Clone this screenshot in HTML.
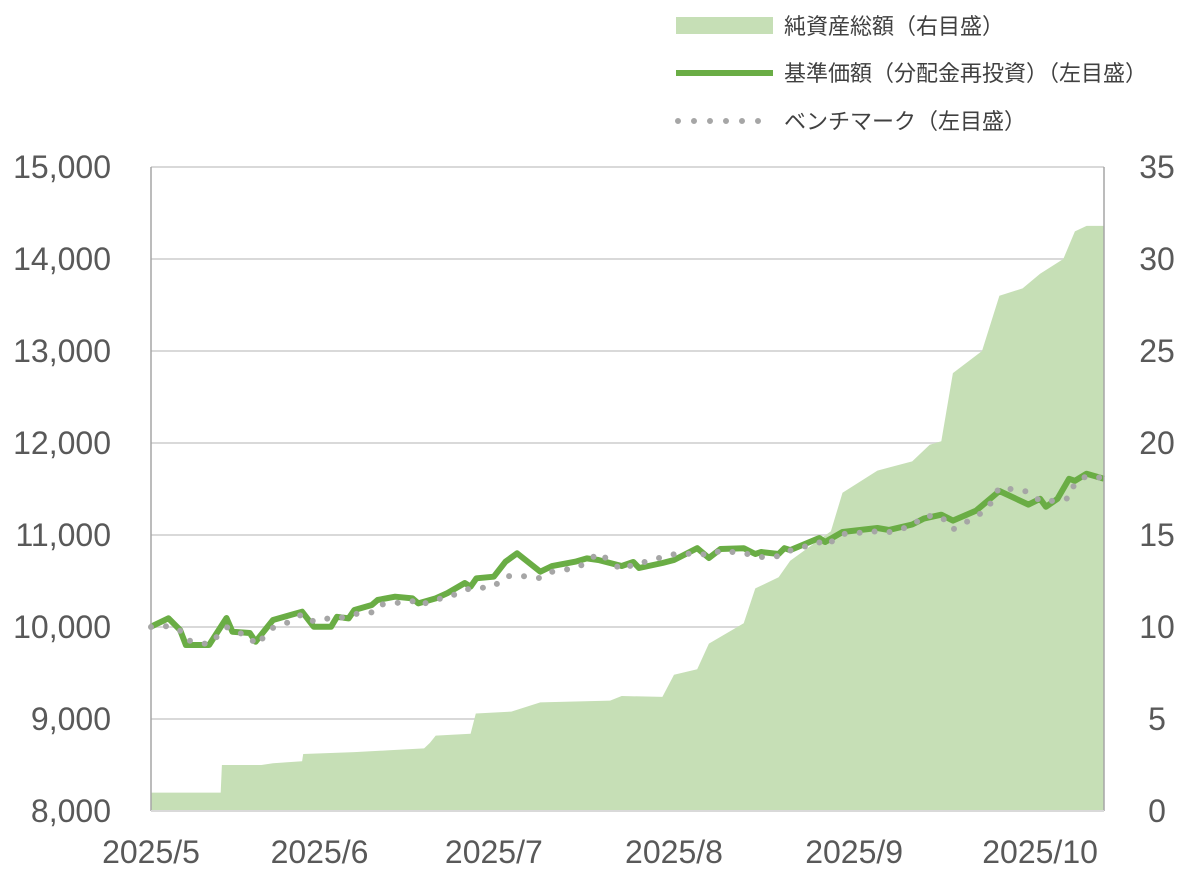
<!DOCTYPE html>
<html><head><meta charset="utf-8">
<style>
html,body{margin:0;padding:0;background:#fff;}
svg{display:block;font-family:"Liberation Sans","Noto Sans CJK JP",sans-serif;}
</style></head>
<body>
<svg id="chart" width="1200" height="882" viewBox="0 0 1200 882" xmlns="http://www.w3.org/2000/svg">
  <g id="legend">
    <g>
      <rect x="676" y="17" width="97" height="17" fill="#c6dfb6"/>
      <text x="784" y="34" font-size="22" fill="#404040">純資産総額（右目盛）</text>
    </g>
    <g>
      <line x1="676" y1="73" x2="773" y2="73" stroke="#6aad45" stroke-width="6"/>
      <text x="784" y="81" font-size="22" fill="#404040">基準価額（分配金再投資）（左目盛）</text>
    </g>
    <g>
      <line x1="678" y1="121" x2="773" y2="121" stroke="#a6a6a6" stroke-width="6" stroke-linecap="round" stroke-dasharray="0 16"/>
      <text x="784" y="129" font-size="22" fill="#404040">ベンチマーク（左目盛）</text>
    </g>
  </g>
  <g id="grid"></g>
  <g id="area"></g>
  <g id="lines"></g>
  <g id="axes"></g>
</svg>
<script>
const navDays = [0,3,5,6,10,13,14,17,18,21,24,26,28,31,32,34,35,38,39,42,45,46,49,51,54,55,56,59,61,63,67,69,73,75,77,81,83,84,88,90,94,96,98,102,104,105,108,109,110,115,116,119,125,127,131,133,136,138,142,144,146,151,153,154,156,158,159,161,164];
const navValues = [10003,10095,9967,9804,9804,10098,9949,9935,9840,10076,10130,10166,10003,10003,10111,10093,10185,10239,10293,10329,10311,10257,10311,10369,10478,10438,10529,10547,10710,10801,10601,10662,10710,10746,10728,10663,10706,10641,10696,10728,10857,10750,10848,10857,10793,10815,10793,10857,10836,10967,10924,11033,11076,11054,11114,11178,11221,11157,11265,11372,11478,11330,11394,11307,11394,11611,11589,11666,11611];
const benchValues = [10000,10010,9960,9860,9810,10000,9960,9900,9800,9990,10060,10140,10060,10100,10090,10120,10140,10160,10240,10260,10280,10230,10300,10320,10400,10420,10420,10440,10550,10560,10530,10600,10640,10700,10810,10620,10680,10690,10760,10790,10800,10780,10830,10800,10780,10760,10770,10810,10830,10920,10880,11010,11040,11030,11100,11210,11200,11060,11200,11290,11520,11470,11370,11360,11380,11400,11570,11640,11620];
const assetDays = [0,6,12,12.2,19,21,26,26.2,35,41,47,48,49,55,55.9,62,67,79,81,88,90,94,96,102,104,108,110,117,119,125,131,134,136,138,143,146,150,153,157,159,161,164];
const assetValues = [1.0,1.0,1.0,2.5,2.5,2.6,2.7,3.1,3.2,3.3,3.4,3.7,4.1,4.2,5.3,5.4,5.9,6.0,6.25,6.2,7.4,7.7,9.1,10.2,12.1,12.7,13.6,15.2,17.3,18.5,19.0,19.9,20.1,23.8,25.0,28.0,28.4,29.2,30.0,31.5,31.8,31.8];
const leftTicks = [8000,9000,10000,11000,12000,13000,14000,15000];
const rightTicks = [0,5,10,15,20,25,30,35];
const xLabels = ["2025/5","2025/6","2025/7","2025/8","2025/9","2025/10"];
const xLabelDays = [0,29,59,90,121,153];

const NS="http://www.w3.org/2000/svg";
const X0=151,X1=1104,Y0=811,Y1=167,DMAX=164;
const xs=d=>X0+(X1-X0)*d/DMAX;
const yl=v=>Y0-(v-8000)/7000*(Y0-Y1);
const yr=v=>Y0-v/35*(Y0-Y1);
function mk(tag,attrs,parent){const e=document.createElementNS(NS,tag);for(const k in attrs)e.setAttribute(k,attrs[k]);parent.appendChild(e);return e;}

const grid=document.getElementById('grid');
leftTicks.forEach(t=>{
  if(t===8000)return;
  const l=mk('line',{x1:X0,x2:X1,y1:yl(t),y2:yl(t),stroke:'#d9d9d9','stroke-width':2},grid);
  
  
});

const area=document.getElementById('area');
let d='M'+xs(assetDays[0])+','+Y0;
assetDays.forEach((dd,i)=>{d+=' L'+xs(dd).toFixed(1)+','+yr(assetValues[i]).toFixed(1);});
d+=' L'+xs(assetDays[assetDays.length-1])+','+Y0+' Z';
const ap=mk('path',{d:d,fill:'#c6dfb6'},area);



const lines=document.getElementById('lines');
const navPts=navDays.map((dd,i)=>xs(dd).toFixed(1)+','+yl(navValues[i]).toFixed(1)).join(' ');
const nl=mk('polyline',{points:navPts,fill:'none',stroke:'#6aad45','stroke-width':6,'stroke-linejoin':'round'},lines);


const bPts=navDays.map((dd,i)=>xs(dd).toFixed(1)+','+yl(benchValues[i]).toFixed(1)).join(' ');
const bl=mk('polyline',{points:bPts,fill:'none',stroke:'#a6a6a6','stroke-width':6,'stroke-linecap':'round','stroke-dasharray':'0 15'},lines);



const axes=document.getElementById('axes');
const la=mk('line',{x1:X0,x2:X0,y1:Y1,y2:Y0,stroke:'#a6a6a6','stroke-width':1.5},axes);


const ra=mk('line',{x1:X1,x2:X1,y1:Y1,y2:Y0,stroke:'#a6a6a6','stroke-width':1.5},axes);


const ba=mk('line',{x1:X0,x2:X1,y1:Y0,y2:Y0,stroke:'#d9d9d9','stroke-width':2},axes);


leftTicks.forEach(t=>{
  const e=mk('text',{x:111,y:yl(t)+11,'text-anchor':'end','font-size':32,fill:'#595959'},axes);
  e.textContent=t.toLocaleString('en-US');
  
  
});
rightTicks.forEach(t=>{
  const e=mk('text',{x:1157,y:yr(t)+11,'text-anchor':'middle','font-size':32,fill:'#595959'},axes);
  e.textContent=String(t);
  
  
});
xLabels.forEach((lab,i)=>{
  const e=mk('text',{x:xs(xLabelDays[i]),y:863,'text-anchor':'middle','font-size':32,fill:'#595959'},axes);
  e.textContent=lab;
  
  
});
</script>
</body></html>
